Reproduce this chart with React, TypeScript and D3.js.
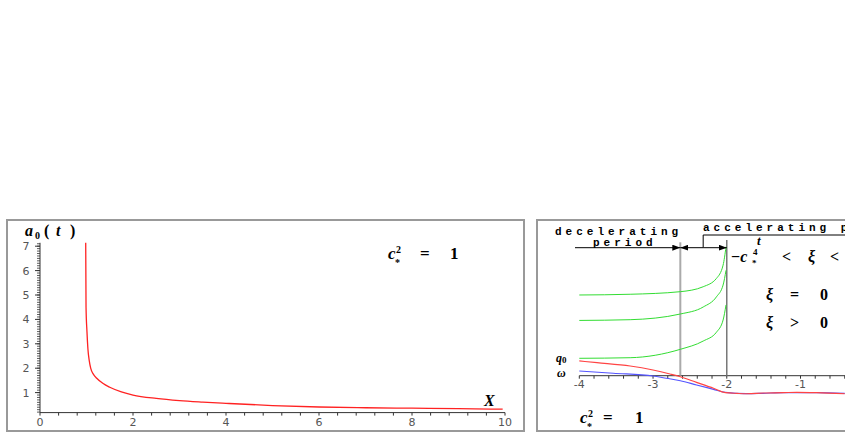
import React from 'react';
import * as d3 from 'd3';

// left panel: a0(t) against X
const leftX = [0.983, 0.99, 1.01, 1.03, 1.06, 1.09, 1.15, 1.22, 1.35, 1.5, 1.75, 2, 2.5, 3, 3.5, 4, 5, 6, 7, 8, 9, 9.95];
const leftA0 = [7.14, 4.5, 3.5, 2.8, 2.3, 2.0, 1.75, 1.59, 1.38, 1.22, 1.03, 0.9, 0.76, 0.67, 0.61, 0.56, 0.47, 0.41, 0.38, 0.36, 0.34, 0.32];
const leftXTicks = [0, 2, 4, 6, 8, 10];
const leftYTicks = [1, 2, 3, 4, 5, 6, 7];

// right panel: q0, omega and three xi curves against t
const q0T = [-4, -3.76, -3.31, -3.0, -2.77, -2.63, -2.41, -2.18, -2.02, -1.86, -1.73, -1.5, -1.23, -1.05, -0.78, -0.4];
const q0Vals = [0.2, 0.177, 0.132, 0.077, 0.023, -0.014, -0.09, -0.17, -0.23, -0.24, -0.245, -0.235, -0.23, -0.225, -0.23, -0.245];
const omegaT = [-4, -3.54, -3.0, -2.82, -2.63, -2.41, -2.18, -2.02, -1.73, -1.51, -1.23, -1.05, -0.78, -0.4];
const omegaVals = [0.064, 0.033, -0.004, -0.035, -0.068, -0.126, -0.185, -0.226, -0.244, -0.239, -0.23, -0.23, -0.23, -0.24];
const xiT = [-4, -3.31, -2.63, -2.32, -2.14, -2.05, -2.01];
const xiNeg = [1.095, 1.105, 1.14, 1.207, 1.32, 1.5, 1.75];
const xiZero = [0.75, 0.76, 0.837, 0.932, 1.07, 1.23, 1.43];
const xiPos = [0.236, 0.244, 0.358, 0.47, 0.59, 0.755, 0.96];
const rightXTicks = [-4, -3, -2, -1];
const transitionT = -2.63;
const asymptoteT = -2;

const serif = '"Liberation Serif", "DejaVu Serif", serif';
const sans = '"DejaVu Sans", "Liberation Sans", sans-serif';
const mono = '"Liberation Mono", "DejaVu Sans Mono", monospace';

function CStar({ x, y, eqDx, oneDx }: { x: number; y: number; eqDx: number; oneDx: number }) {
  return (
    <g fontFamily={serif} fill="#000" fontWeight="bold">
      <text x={x} y={y} fontSize={17} fontStyle="italic">c</text>
      <text x={x + 8} y={y - 6} fontSize={10}>2</text>
      <text x={x + 7} y={y + 7} fontSize={10}>*</text>
      <text x={x + eqDx} y={y} fontSize={17}>=</text>
      <text x={x + oneDx} y={y} fontSize={17}>1</text>
    </g>
  );
}

export default function App() {
  const xL = d3.scaleLinear().domain([0, 10]).range([40, 505]);
  const yL = d3.scaleLinear().domain([0, 7]).range([417, 246.2]);
  const xR = d3.scaleLinear().domain([-4, -1]).range([579.3, 800.5]);
  const yR = d3.scaleLinear().domain([0, 1]).range([375.7, 302]);

  const lineL = d3.line<number>().x((_, i) => xL(leftX[i])).y(d => yL(d)).curve(d3.curveMonotoneX);
  const mkR = (ts: number[]) =>
    d3.line<number>().x((_, i) => xR(ts[i])).y(d => yR(d)).curve(d3.curveMonotoneX);

  const xMinorL = d3.range(0, 10.01, 0.4);
  const yMinorL = d3.range(0.2, 7.15, 0.1);
  const xMinorR = d3.range(-4, 0.01, 0.2);

  const arrowY = 247.7;
  const bracketX = xR(-2.32);

  return (
    <div style={{ position: 'absolute', left: 0, top: 0 }}>
      <svg width={845} height={436} style={{ display: 'block', background: '#fff' }}>
        <defs>
          <marker id="ah" viewBox="0 0 8 6" refX={8} refY={3} markerWidth={8} markerHeight={6} orient="auto" markerUnits="userSpaceOnUse">
            <path d="M0,0 L8,3 L0,6 Z" fill="#000" />
          </marker>
        </defs>

        {/* left panel */}
        <rect x={7} y={220} width={517} height={211} fill="none" stroke="#999" strokeWidth={2} />
        <line x1={xL(0)} x2={xL(10)} y1={yL(0.18)} y2={yL(0.18)} stroke="#333" />
        <line x1={xL(0)} x2={xL(0)} y1={yL(0.18)} y2={yL(7.14)} stroke="#333" />
        {xMinorL.map((t, i) => (
          <line key={'xm' + i} x1={xL(t)} x2={xL(t)} y1={yL(0.18)} y2={yL(0.18) + 3} stroke="#333" />
        ))}
        {yMinorL.map((v, i) => (
          <line key={'ym' + i} x1={xL(0) - 3} x2={xL(0)} y1={yL(v)} y2={yL(v)} stroke="#333" strokeWidth={0.8} />
        ))}
        {leftYTicks.map(v => (
          <g key={'yt' + v}>
            <line x1={xL(0) - 5} x2={xL(0)} y1={yL(v)} y2={yL(v)} stroke="#333" />
            <text x={xL(0) - 14} y={yL(v) + 4} fontSize={11} fontFamily={sans} fill="#555" textAnchor="middle">{v}</text>
          </g>
        ))}
        {leftXTicks.map(v => (
          <text key={'xt' + v} x={xL(v)} y={426} fontSize={11} fontFamily={sans} fill="#555" textAnchor="middle">{v}</text>
        ))}
        <path d={lineL(leftA0) ?? ''} fill="none" stroke="#f22" strokeWidth={1.3} />
        <g fontFamily={serif} fontWeight="bold">
          <text x={25} y={236} fontSize={16} fontStyle="italic">a</text>
          <text x={35} y={239} fontSize={10}>0</text>
          <text x={44} y={236} fontSize={16}>(</text>
          <text x={56} y={236} fontSize={16} fontStyle="italic">t</text>
          <text x={70} y={236} fontSize={16}>)</text>
        </g>
        <CStar x={388} y={259} eqDx={32} oneDx={62} />
        <text x={484} y={406} fontFamily={serif} fontSize={16} fontStyle="italic" fontWeight="bold">X</text>

        {/* right panel */}
        <rect x={537} y={220} width={400} height={211} fill="none" stroke="#999" strokeWidth={2} />
        <line x1={xR(-4)} x2={xR(0.2)} y1={yR(0)} y2={yR(0)} stroke="#333" />
        {xMinorR.map((t, i) => (
          <line key={'rm' + i} x1={xR(t)} x2={xR(t)} y1={yR(0)} y2={yR(0) + 3} stroke="#333" />
        ))}
        {rightXTicks.map(v => (
          <text key={'rt' + v} x={xR(v)} y={388} fontSize={11} fontFamily={sans} fill="#555" textAnchor="middle">{'-' + Math.abs(v)}</text>
        ))}
        <line x1={xR(transitionT)} x2={xR(transitionT)} y1={yR(0)} y2={yR(1.81)} stroke="#aaa" strokeWidth={2} />
        <line x1={xR(asymptoteT)} x2={xR(asymptoteT)} y1={yR(0)} y2={yR(1.84)} stroke="#777" strokeWidth={1.5} />
        {[xiNeg, xiZero, xiPos].map((vals, i) => (
          <path key={'xi' + i} d={mkR(xiT)(vals) ?? ''} fill="none" stroke="#3d3" strokeWidth={1} />
        ))}
        <path d={mkR(omegaT)(omegaVals) ?? ''} fill="none" stroke="#55f" strokeWidth={1.2} />
        <path d={mkR(q0T)(q0Vals) ?? ''} fill="none" stroke="#f44" strokeWidth={1.2} />

        <text x={555} y={235} fontFamily={mono} fontSize={11} fontWeight="bold" letterSpacing={4}>decelerating</text>
        <text x={593} y={246} fontFamily={mono} fontSize={11} fontWeight="bold" letterSpacing={4}>period</text>
        <text x={703} y={231} fontFamily={mono} fontSize={11} fontWeight="bold" letterSpacing={4}>accelerating period</text>
        <line x1={575} x2={xR(transitionT)} y1={arrowY} y2={arrowY} stroke="#000" markerEnd="url(#ah)" />
        <line x1={bracketX} x2={xR(transitionT)} y1={arrowY} y2={arrowY} stroke="#000" markerEnd="url(#ah)" />
        <line x1={bracketX} x2={xR(asymptoteT)} y1={arrowY} y2={arrowY} stroke="#000" markerEnd="url(#ah)" />
        <polyline points={`${bracketX},${arrowY} ${bracketX},235 850,235`} fill="none" stroke="#000" />
        <text x={757} y={245} fontFamily={serif} fontSize={13} fontStyle="italic" fontWeight="bold">t</text>

        <g fontFamily={serif} fontSize={16} fontWeight="bold">
          <text x={731} y={262}>−<tspan fontStyle="italic">c</tspan></text>
          <text x={753} y={255} fontSize={9}>4</text>
          <text x={752} y={266} fontSize={9}>*</text>
          <text x={782} y={262}>&lt;</text>
          <text x={808} y={262} fontStyle="italic">ξ</text>
          <text x={830} y={262}>&lt;</text>
          <text x={766} y={300} fontStyle="italic">ξ</text>
          <text x={790} y={300}>=</text>
          <text x={820} y={300}>0</text>
          <text x={766} y={328} fontStyle="italic">ξ</text>
          <text x={790} y={328}>&gt;</text>
          <text x={820} y={328}>0</text>
        </g>
        <g fontFamily={serif} fontWeight="bold" fontSize={12}>
          <text x={556} y={362} fontStyle="italic">q<tspan fontStyle="normal" fontSize={9} dy={1}>0</tspan></text>
          <text x={557} y={377} fontStyle="italic">ω</text>
        </g>
        <CStar x={580} y={423} eqDx={23} oneDx={55} />
      </svg>
    </div>
  );
}
